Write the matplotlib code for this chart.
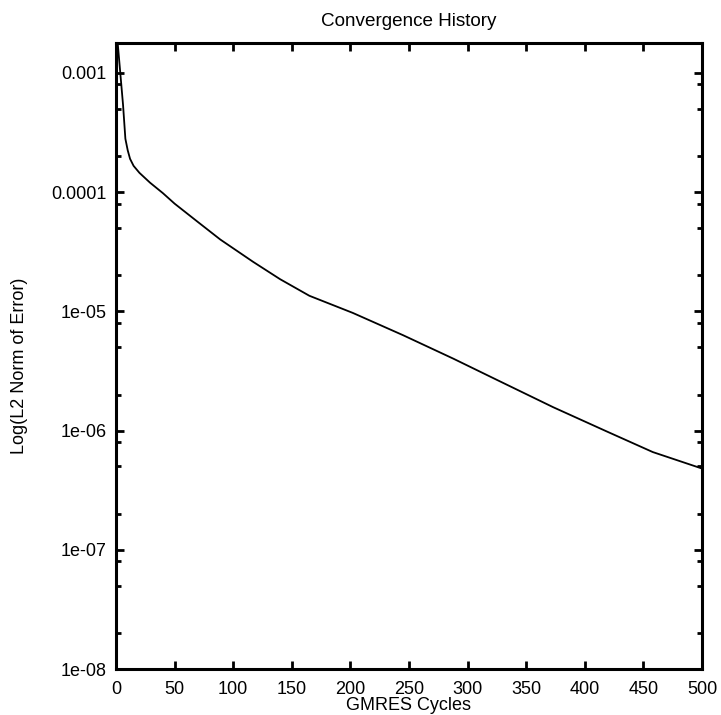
import matplotlib
matplotlib.use("Agg")
import matplotlib.pyplot as plt
from matplotlib.ticker import FixedLocator, FixedFormatter, LogLocator, NullFormatter

# Data
cycles = [0, 1.5, 3.5, 6, 8, 10, 12, 15, 20, 29, 40, 50, 70, 89, 117, 140, 165,
          202, 245, 288, 325, 373, 419, 458, 500]
error = [1.5e-3, 1.75e-3, 1.04e-3, 5.4e-4, 2.8e-4, 2.24e-4, 1.9e-4, 1.66e-4, 1.45e-4,
         1.2e-4, 9.8e-5, 8.0e-5, 5.6e-5, 4.0e-5, 2.6e-5, 1.86e-5, 1.35e-5,
         9.7e-6, 6.3e-6, 4.0e-6, 2.66e-6, 1.57e-6, 9.8e-7, 6.6e-7, 4.8e-7]

xticks = [0, 50, 100, 150, 200, 250, 300, 350, 400, 450, 500]
yticks = [1e-8, 1e-7, 1e-6, 1e-5, 1e-4, 1e-3]
ytick_labels = ["1e-08", "1e-07", "1e-06", "1e-05", "0.0001", "0.001"]

title = "Convergence History"
xlabel = "GMRES Cycles"
ylabel = "Log(L2 Norm of Error)"

plt.rcParams['font.family'] = ['Liberation Sans', 'DejaVu Sans']

fig = plt.figure(figsize=(7.21, 7.15), dpi=100)
ax = fig.add_axes([116/721, 1 - 669/715, (702 - 116)/721, (669 - 43)/715])

ax.plot(cycles, error, color='black', linewidth=1.3)

ax.set_yscale('log')
ax.set_xlim(0, 500)
ax.set_ylim(1e-8, 1.78e-3)

ax.xaxis.set_major_locator(FixedLocator(xticks))
ax.set_xticklabels([str(v) for v in xticks])
ax.yaxis.set_major_locator(FixedLocator(yticks))
ax.yaxis.set_major_formatter(FixedFormatter(ytick_labels))
ax.yaxis.set_minor_locator(LogLocator(base=10, subs=[2, 5, 8]))
ax.yaxis.set_minor_formatter(NullFormatter())

for s in ax.spines.values():
    s.set_linewidth(2.2)

ax.tick_params(which='major', direction='in', length=6, width=2, top=True, right=True,
               labelsize=13, pad=7)
ax.tick_params(axis='x', which='major', pad=9)
ax.tick_params(which='minor', direction='in', length=3.5, width=2, top=True, right=True)

ax.set_title(title, fontsize=13.6, pad=12)
ax.set_xlabel(xlabel, fontsize=13, labelpad=-1)
ax.set_ylabel(ylabel, fontsize=13)
ax.yaxis.set_label_coords(-(116 - 28) / 586, 1 - (366 - 43) / 626)

fig.savefig("out.png", dpi=100)
